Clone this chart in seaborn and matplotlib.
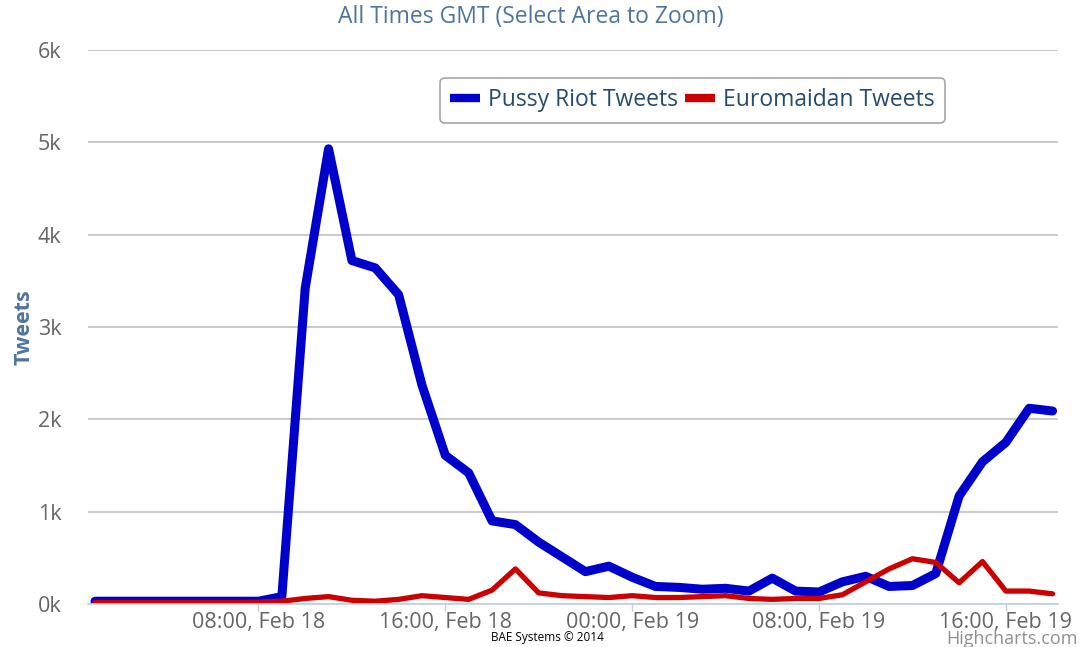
import pandas as pd
import matplotlib.pyplot as plt
import matplotlib.dates as mdates
import seaborn as sns

# hourly samples, 01:00 Feb 18 to 18:00 Feb 19 (GMT)
hours = pd.date_range('2014-02-18 01:00', periods=42, freq='h')

pussy_riot = [30, 30, 30, 30, 30, 30, 30, 30,
              80, 3420, 4930, 3720, 3640, 3350, 2370, 1610, 1420, 900, 860, 670, 510, 350, 410,
              290, 190, 180, 160, 170, 140, 280, 140, 130, 240, 300, 190, 200, 330,
              1170, 1540, 1750, 2120, 2090]
euromaidan = [15, 15, 15, 15, 15, 15, 15, 20,
              30, 60, 80, 40, 30, 50, 90, 70, 50, 150, 380, 120, 90, 80, 70,
              90, 70, 70, 80, 90, 60, 50, 60, 60, 100, 240, 380, 490, 450,
              230, 460, 140, 140, 110]

df = pd.concat([
    pd.DataFrame({'Time': hours, 'Tweets': pussy_riot, 'Series': 'Pussy Riot Tweets'}),
    pd.DataFrame({'Time': hours, 'Tweets': euromaidan, 'Series': 'Euromaidan Tweets'}),
])

sns.set_theme(style='white')
plt.rcParams['font.family'] = ['Open Sans', 'DejaVu Sans']

fig = plt.figure(figsize=(10.92, 6.47), dpi=100)
ax = fig.add_axes([88 / 1092, 43 / 647, 970 / 1092, 554 / 647])

sns.lineplot(data=df, x='Time', y='Tweets', hue='Series',
             palette={'Pussy Riot Tweets': '#0000cc', 'Euromaidan Tweets': '#cc0000'},
             size='Series', sizes={'Pussy Riot Tweets': 6.5, 'Euromaidan Tweets': 3.8},
             ax=ax, legend=False, solid_joinstyle='round', solid_capstyle='round')

ax.set_ylim(0, 6000)
ax.set_xlim(pd.Timestamp('2014-02-18 00:42'), pd.Timestamp('2014-02-19 18:14'))
ax.set_yticks(range(0, 6001, 1000))
ax.set_yticklabels([f'{i}k' for i in range(7)])
ax.grid(axis='y', color='#c0c0c0', linewidth=1.2)
ax.grid(axis='x', visible=False)

ax.xaxis.set_major_locator(mdates.HourLocator(byhour=[0, 8, 16]))
ax.xaxis.set_major_formatter(mdates.DateFormatter('%H:%M, %b %d'))

for s in ['top', 'right', 'left']:
    ax.spines[s].set_visible(False)
ax.spines['bottom'].set_color('#c0d0e0')
ax.spines['bottom'].set_linewidth(1.2)
ax.tick_params(axis='x', bottom=True, length=5, width=1, color='#c0d0e0',
               labelsize=15.5, labelcolor='#666666', pad=0.5)
ax.tick_params(axis='y', left=False, labelsize=15.5, labelcolor='#666666', pad=13)

ax.set_xlabel('')
ax.set_ylabel('Tweets', fontsize=15.5, fontweight='bold', color='#4d759e')
ax.yaxis.set_label_coords(-0.055, 0.5)

fig.text(531 / 1092, 1 - 17 / 647, 'All Times GMT (Select Area to Zoom)',
         ha='center', va='center', fontsize=16.5, color='#4d759e')

handles = [plt.Line2D([], [], color='#0000cc', lw=6, solid_capstyle='butt'),
           plt.Line2D([], [], color='#cc0000', lw=6, solid_capstyle='butt')]
leg = fig.legend(handles, ['Pussy Riot Tweets', 'Euromaidan Tweets'], ncol=2,
                 loc='upper left', bbox_to_anchor=(440 / 1092, 1 - 78 / 647),
                 borderaxespad=0, frameon=True, fancybox=True, fontsize=16.5,
                 handlelength=1.3, handletextpad=0.35, columnspacing=0.3,
                 borderpad=0.45)
leg.get_frame().set_edgecolor('#909090')
leg.get_frame().set_linewidth(1.2)
for t in leg.get_texts():
    t.set_color('#274b6d')

fig.text(547 / 1092, 1 - 638 / 647, 'BAE Systems © 2014', ha='center', va='center',
         fontsize=8.5, color='black')
fig.text(1078 / 1092, 1 - 639 / 647, 'Highcharts.com', ha='right', va='center',
         fontsize=13, color='#909090')

fig.savefig('out.png', dpi=100)
